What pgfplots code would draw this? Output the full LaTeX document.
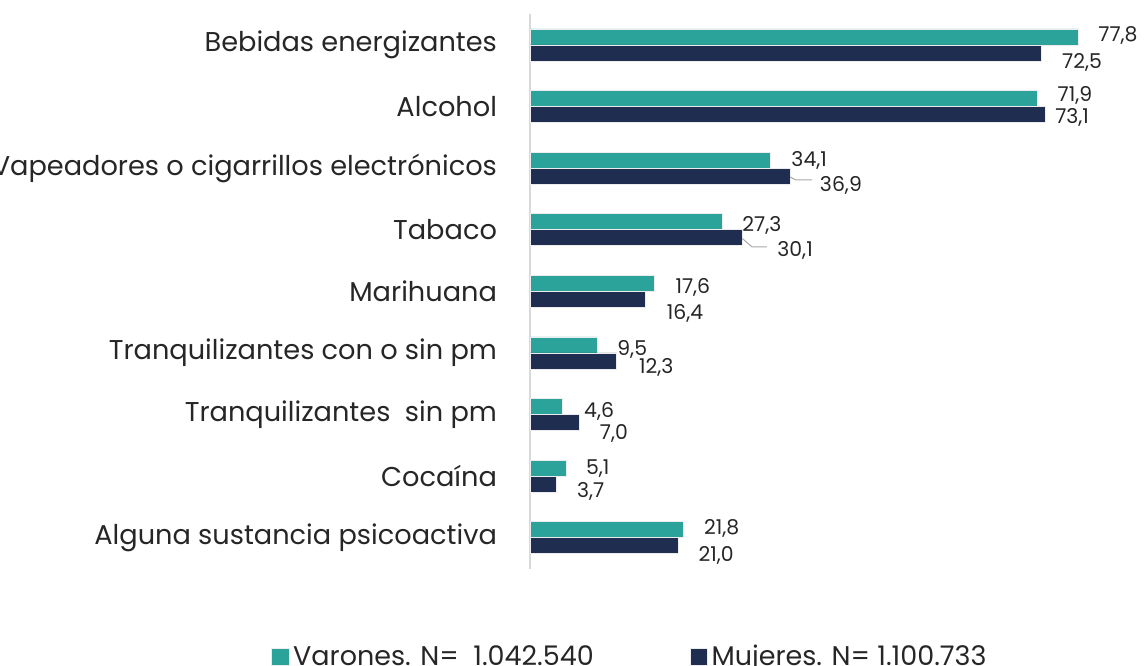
\documentclass[border=0pt]{standalone}
\usepackage{pgfplots}
\pgfplotsset{compat=1.18}
\usepackage{fontspec}
\setmainfont{Poppins}
\definecolor{cteal}{HTML}{2CA39A}
\definecolor{cnavy}{HTML}{1F2D50}
\definecolor{ctext}{HTML}{262626}
\begin{document}
\begin{tikzpicture}
\begin{axis}[
  scale only axis,
  width=282pt, height=277.2pt,
  xmin=0, xmax=80, ymin=-0.5, ymax=8.5,
  axis x line=none,
  axis y line*=left,
  axis line style={draw=black!15, line width=0.8pt},
  ytick={0,...,8},
  yticklabels={Alguna sustancia psicoactiva, Cocaína, Tranquilizantes\ \ sin pm, Tranquilizantes con o sin pm, Marihuana, Tabaco, Vapeadores o cigarrillos electrónicos, Alcohol, Bebidas energizantes},
  major tick length=0pt,
  yticklabel style={font=\fontsize{13.6}{15}\selectfont, text=ctext, anchor=east, xshift=-13pt},
  clip=false,
  legend columns=2,
  legend style={at={(0.179,-0.159)}, anchor=center, draw=none, fill=none,
    font=\fontsize{13.5}{15}\selectfont, text=ctext,
    /tikz/every even column/.append style={column sep=46pt}},
  legend image code/.code={\fill[#1] (0pt,-4.3pt) rectangle (8.6pt,4.3pt);},
]
\addplot[xbar, bar width=8pt, bar shift=4pt, fill=cteal, draw=white!85!gray, line width=0.3pt] coordinates {
 (21.8,0) (5.1,1) (4.6,2) (9.5,3) (17.6,4) (27.3,5) (34.1,6) (71.9,7) (77.8,8)};
\addlegendentry{Varones. N=\ \ 1.042.540}
\addplot[xbar, bar width=8pt, bar shift=-4pt, fill=cnavy, draw=white!85!gray, line width=0.3pt] coordinates {
 (21.0,0) (3.7,1) (7.0,2) (12.3,3) (16.4,4) (30.1,5) (36.9,6) (73.1,7) (72.5,8)};
\addlegendentry{Mujeres. N= 1.100.733}
% leader lines
\addplot[forget plot, draw=black!35, line width=0.5pt] coordinates {(36.9,5.857) (37.7,5.808) (40.0,5.808)};
\addplot[forget plot, draw=black!35, line width=0.5pt] coordinates {(30.1,4.86) (31.5,4.721) (33.6,4.721)};
% data labels
\addplot[forget plot, draw=none, mark=none, nodes near coords, point meta=explicit symbolic,
  nodes near coords style={anchor=center, inner sep=0pt, font=\fontsize{10.2}{11}\selectfont, text=ctext}]
  table[meta=lab] {
x y lab
83.4 8.162 77,8
78.3 7.724 72,5
77.3 7.188 71,9
76.9 6.831 73,1
39.6 6.133 34,1
44.1 5.727 36,9
32.9 5.078 27,3
37.6 4.672 30,1
23.1 4.071 17,6
22.0 3.649 16,4
14.5 3.065 9,5
17.9 2.773 12,3
9.8 2.058 4,6
11.9 1.701 7,0
9.6 1.117 5,1
8.6 0.744 3,7
27.2 0.159 21,8
26.4 -0.279 21,0
};
\coordinate (bl) at (axis cs:-75.18,-2.08);
\coordinate (tr) at (axis cs:87.23,8.73);
\end{axis}
\pgfresetboundingbox
\path[use as bounding box] (bl) rectangle (tr);
\end{tikzpicture}
\end{document}
